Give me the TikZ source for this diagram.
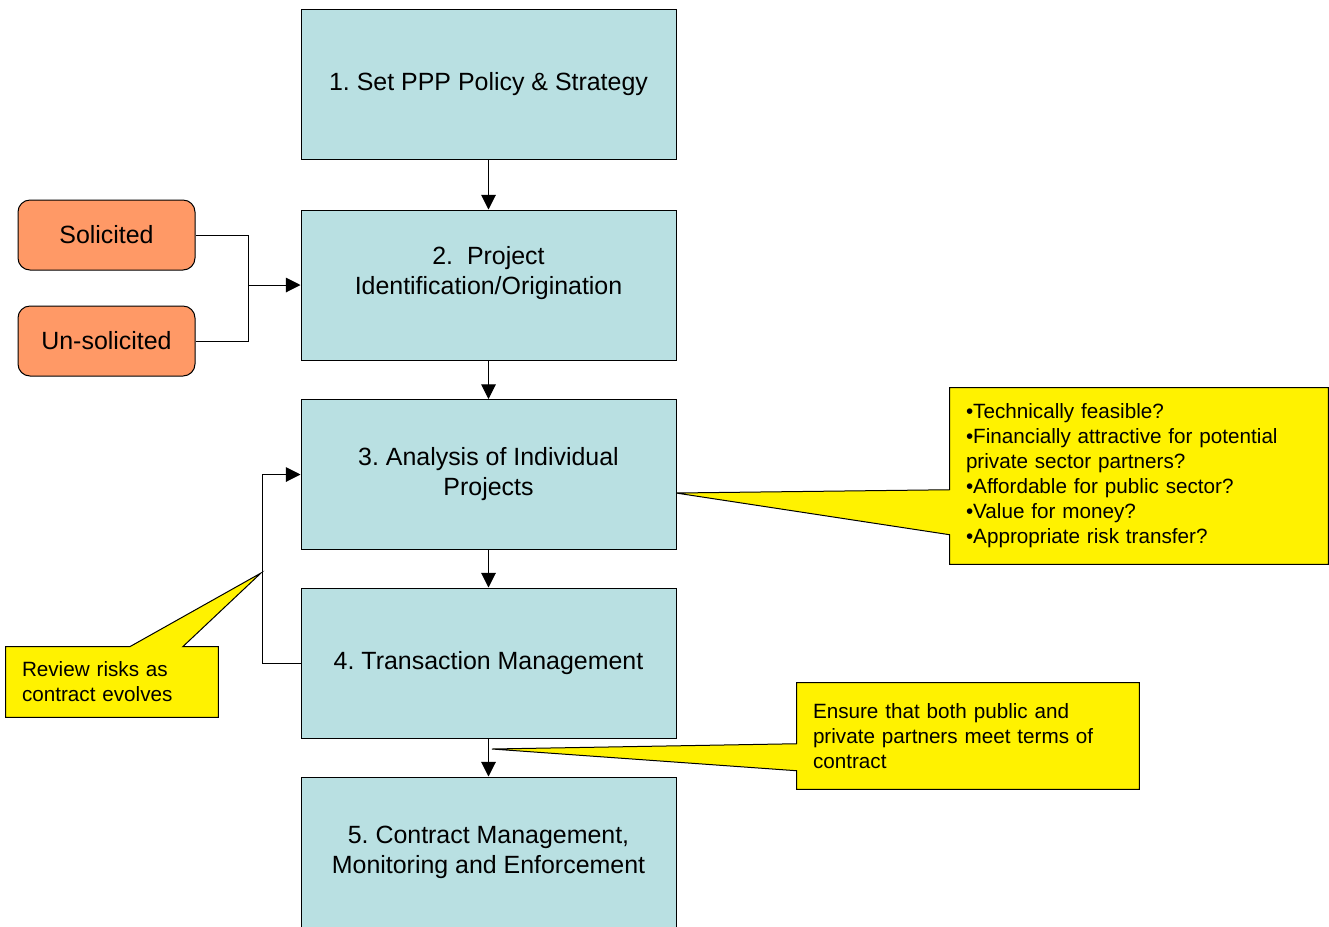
\documentclass[tikz,border=0pt]{standalone}
\usepackage{fontspec}
\setmainfont{Liberation Sans}
\usetikzlibrary{arrows.meta,calc,backgrounds}
\frenchspacing
\definecolor{stageblue}{RGB}{185,224,226}
\definecolor{srcorange}{RGB}{255,153,102}
\tikzstyle{stage}=[rectangle,draw,fill=stageblue,line width=0.75pt,minimum width=281.25pt,minimum height=112.5pt,align=center,font=\fontsize{18.7}{22.5}\selectfont]
\tikzstyle{source}=[rectangle,rounded corners=9pt,draw,fill=srcorange,line width=0.75pt,minimum width=132.75pt,minimum height=52.5pt,font=\fontsize{18.7}{22.5}\selectfont]
\tikzstyle{note}=[rectangle,inner xsep=12pt,align=left,font=\fontsize{15.5}{18.75}\selectfont]
\tikzstyle{notebg}=[fill=yellow,draw,line width=0.75pt,line join=miter]
\tikzstyle{link}=[line width=0.75pt]
\tikzset{>={Triangle[length=11pt,width=11pt]}}

\begin{document}
\begin{tikzpicture}[x=0.75pt,y=-0.75pt]
          \useasboundingbox (0,0) rectangle (1329,926);
          % stages
          \node[stage] (policy) at (488.5, 84.5) {1. Set PPP Policy \& Strategy};
          \node[stage] (origin) at (488.5, 285) {2.\ \ Project\\Identification/Origination\\\mbox{}};
          \node[stage] (analysis) at (488.5, 474.5) {3. Analysis of Individual\\Projects};
          \node[stage] (transact) at (488.5, 663) {4. Transaction Management};
          \node[stage] (contract) at (488.5, 852) {5. Contract Management,\\Monitoring and Enforcement};
          % sources
          \node[source] (solic) at (106.5, 235) {Solicited};
          \node[source] (unsolic) at (106.5, 341) {Un-solicited};
          \coordinate (join) at (248, 285);
          % notes
          \node[note,text width=135pt,minimum width=159pt,minimum height=52.5pt] (risks) at (112, 682)
            {Review risks as\\contract evolves};
          \node[note,text width=259.5pt,minimum width=283.5pt,minimum height=132pt] (checks) at (1139, 476)
            {•Technically feasible?\\•Financially attractive for potential\\private sector partners?\\•Affordable for public sector?\\•Value for money?\\•Appropriate risk transfer?};
          \node[note,text width=232.5pt,minimum width=256.5pt,minimum height=79.5pt] (ensure) at (968, 736)
            {Ensure that both public and\\private partners meet terms of\\contract};
          \coordinate (risktip) at (261, 573);
          \coordinate (checktip) at (676, 493);
          \coordinate (ensuretip) at (492, 749);
          \begin{scope}[on background layer]
            \draw[notebg] (risks.north west) -- ($(risks.north west)+(124,0)$) -- (risktip)
              -- ($(risks.north west)+(177,0)$) -- (risks.north east) -- (risks.south east)
              -- (risks.south west) -- cycle;
            \draw[notebg] (checks.north west) -- ($(checks.north west)+(0,102)$) -- (checktip)
              -- ($(checks.north west)+(0,147)$) -- (checks.south west) -- (checks.south east)
              -- (checks.north east) -- cycle;
            \draw[notebg] (ensure.north west) -- ($(ensure.north west)+(0,61)$) -- (ensuretip)
              -- ($(ensure.north west)+(0,88)$) -- (ensure.south west) -- (ensure.south east)
              -- (ensure.north east) -- cycle;
          \end{scope}
          % connectors
          \draw[link,->] (policy) -- (origin);
          \draw[link,->] (origin) -- (analysis);
          \draw[link,->] (analysis) -- (transact);
          \draw[link,->] (transact) -- (contract);
          \draw[link] (solic.east) -| (join);
          \draw[link] (unsolic.east) -| (join);
          \draw[link,->] (join) -- (origin.west);
          \draw[link,->] (transact.west) -- ++(-38,0) |- (analysis.west);
        \end{tikzpicture}
\end{document}
